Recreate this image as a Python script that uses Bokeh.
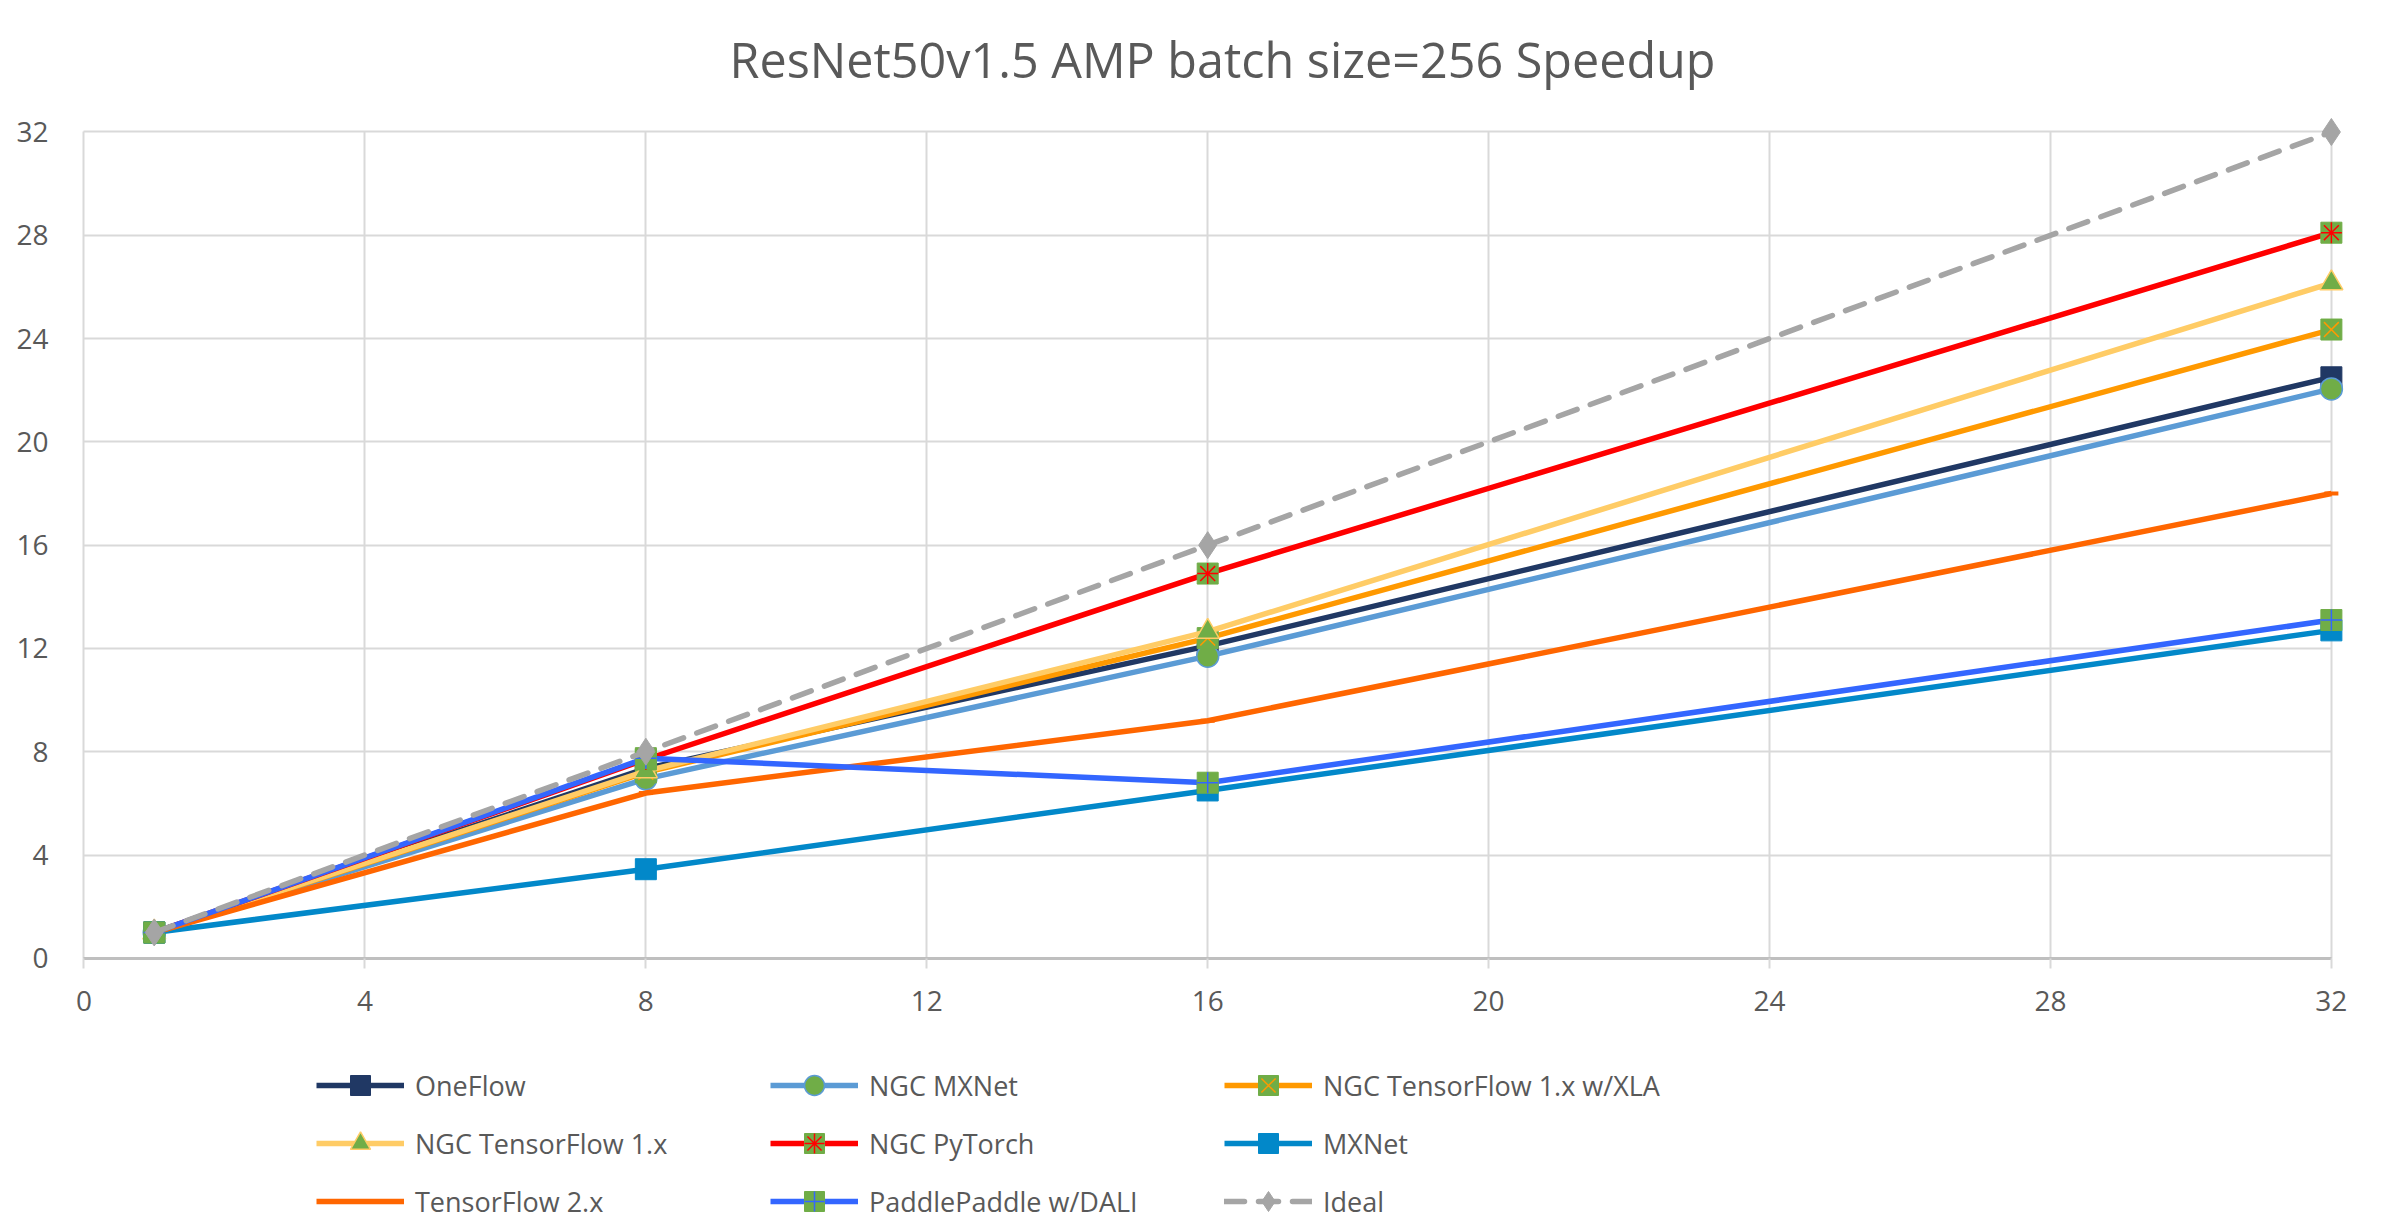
from bokeh.plotting import figure
from bokeh.models import Range1d, FixedTicker, Legend, LegendItem
from bokeh.embed import file_html
from bokeh.resources import INLINE

# ---- data ----
gpus = [1, 8, 16, 32]
oneflow = [1, 7.35, 12.1, 22.5]
ngc_mxnet = [1, 6.95, 11.7, 22.05]
ngc_tf_xla = [1, 7.2, 12.4, 24.35]
ngc_tf = [1, 7.25, 12.65, 26.15]
ngc_pytorch = [1, 7.7, 14.9, 28.1]
mxnet = [1, 3.45, 6.5, 12.7]
tf2 = [1, 6.4, 9.2, 18.0]
paddle = [1, 7.75, 6.8, 13.1]
ideal = [1, 8, 16, 32]
axis_ticks = [0, 4, 8, 12, 16, 20, 24, 28, 32]
title_text = "ResNet50v1.5 AMP batch size=256 Speedup"

FONT = "Open Sans"
TXT = "#595959"
GREEN = "#70AD47"

p = figure(width=2373, height=1223, output_backend="svg", toolbar_location=None,
           x_range=Range1d(-0.42, 32.5), y_range=Range1d(-10.27, 32.6),
           min_border_left=54, min_border_right=7, min_border_top=116,
           min_border_bottom=0, title=title_text)
p.outline_line_color = None
p.title.align = "left"
p.title.offset = 675
p.title.vertical_align = "middle"
p.title.text_font = FONT
p.title.text_font_size = "48.5px"
p.title.text_font_style = "normal"
p.title.text_color = TXT
p.title.standoff = 48

for g in (p.xgrid, p.ygrid):
    g.ticker = FixedTicker(ticks=axis_ticks)
    g.grid_line_color = "#D9D9D9"
    g.grid_line_width = 2
    g.bounds = (0, 32)
    g.cross_bounds = (0, 32)

xa = p.xaxis[0]
xa.fixed_location = 0
xa.ticker = FixedTicker(ticks=axis_ticks)
xa.bounds = (0, 32)
xa.axis_line_color = "#BFBFBF"
xa.axis_line_width = 3
xa.major_tick_line_color = "#D9D9D9"
xa.major_tick_line_width = 2
xa.major_tick_out = 10
xa.major_tick_in = 0
xa.minor_tick_line_color = None
xa.major_label_standoff = 23
ya = p.yaxis[0]
ya.ticker = FixedTicker(ticks=axis_ticks)
ya.axis_line_color = None
ya.major_tick_line_color = None
ya.minor_tick_line_color = None
ya.major_label_standoff = 0
for ax in (xa, ya):
    ax.major_label_text_font = FONT
    ax.major_label_text_font_size = "28px"
    ax.major_label_text_color = TXT

LW = 5.5
items = []

def add_series(label, ys, color, marks, dash="solid"):
    rs = [p.line(gpus, ys, line_color=color, line_width=LW, line_dash=dash,
                 line_cap="round" if dash != "solid" else "butt", line_join="round")]
    for m in marks:
        rs.append(p.scatter(gpus, ys, **m))
    items.append(LegendItem(label=label, renderers=rs))

add_series("OneFlow", oneflow, "#203864",
           [dict(marker="square", size=21, fill_color="#203864", line_color="#203864")])
add_series("NGC MXNet", ngc_mxnet, "#5B9BD5",
           [dict(marker="circle", size=22, fill_color=GREEN, line_color="#5B9BD5", line_width=1.5)])
add_series("NGC TensorFlow 1.x w/XLA", ngc_tf_xla, "#FF9900",
           [dict(marker="square", size=21, fill_color=GREEN, line_color=GREEN),
            dict(marker="x", size=21, line_color="#FF9900", line_width=1.5)])
add_series("NGC TensorFlow 1.x", ngc_tf, "#FFCC66",
           [dict(marker="triangle", size=23, fill_color=GREEN, line_color="#FFCC66", line_width=1.5)])
add_series("NGC PyTorch", ngc_pytorch, "#FF0000",
           [dict(marker="square", size=21, fill_color=GREEN, line_color=GREEN),
            dict(marker="asterisk", size=21, line_color="#FF0000", line_width=1.5)])
add_series("MXNet", mxnet, "#0288C9",
           [dict(marker="square", size=21, fill_color="#0288C9", line_color="#0288C9")])
add_series("TensorFlow 2.x", tf2, "#FF6600",
           [dict(marker="dash", size=14, line_color="#FF6600", line_width=4)])
add_series("PaddlePaddle w/DALI", paddle, "#3366FF",
           [dict(marker="square", size=21, fill_color=GREEN, line_color=GREEN),
            dict(marker="cross", size=21, line_color="#3366FF", line_width=1.5)])
add_series("Ideal", ideal, "#A5A5A5",
           [dict(marker="diamond", size=27, fill_color="#A5A5A5", line_color="#A5A5A5")],
           dash="20 14")

legend = Legend(items=items, orientation="horizontal", ncols=3,
                location=(262, -3), padding=0, margin=0,
                glyph_width=88, glyph_height=50, label_standoff=11,
                label_width=347, label_height=28, spacing=8,
                label_text_font=FONT, label_text_font_size="27px",
                label_text_color=TXT, border_line_color=None,
                background_fill_alpha=0)
p.add_layout(legend, "center")

open("out.html", "w").write(file_html(p, INLINE))
